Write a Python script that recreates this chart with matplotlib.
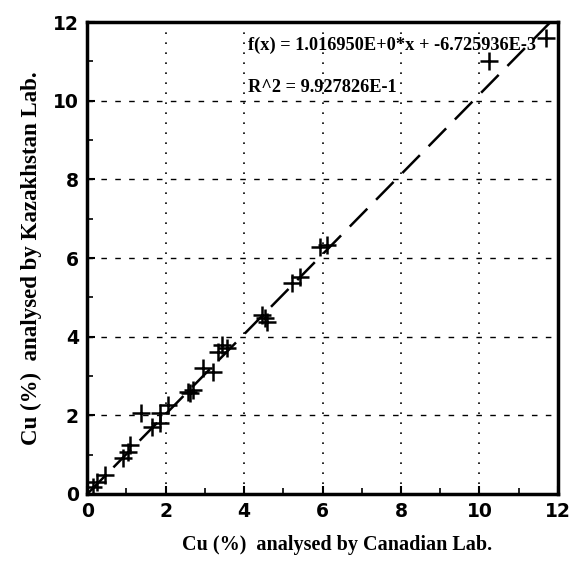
import numpy as np
import matplotlib.pyplot as plt

# Cu (%) pairs
canadian = [0.15, 0.25, 0.46, 0.92, 1.05, 1.10, 1.38, 1.66, 1.86, 1.86, 2.07,
            2.58, 2.63, 2.70, 2.96, 3.21, 3.34, 3.44, 3.57,
            4.46, 4.54, 4.59, 5.23, 5.43, 5.94, 6.12, 10.23, 11.70]
kazakh = [0.18, 0.30, 0.48, 0.92, 1.07, 1.25, 2.06, 1.70, 1.80, 2.06, 2.26,
          2.60, 2.57, 2.65, 3.20, 3.10, 3.61, 3.79, 3.71,
          4.56, 4.48, 4.38, 5.37, 5.52, 6.29, 6.34, 11.00, 11.60]

slope = 1.016950
intercept = -6.725936e-3
eq_text = "f(x) = 1.016950E+0*x + -6.725936E-3"
r2_text = "R^2 = 9.927826E-1"

fig = plt.figure(figsize=(5.77, 5.69), dpi=100)
ax = fig.add_axes([0.151, 0.132, 0.816, 0.829])

xs = np.array([0, 12])
ax.plot(xs, slope * xs + intercept, color="black", lw=1.8, dashes=(10, 5))
ax.plot(canadian, kazakh, "+", color="black", ms=13, mew=1.8)

for v in [2, 4, 6, 8, 10]:
    ax.axvline(v, color="black", lw=1.2, ls=(0, (1, 5)))
    ax.axhline(v, color="black", lw=1.0, ls=(0, (4, 6)))

ax.set_xlim(0, 12)
ax.set_ylim(0, 12)
ax.set_xticks(range(0, 13, 2))
ax.set_yticks(range(0, 13, 2))
ax.set_xticks(range(1, 12, 2), minor=True)
ax.set_yticks(range(1, 12, 2), minor=True)
ax.tick_params(direction="in", length=6, width=1.5, labelsize=13.5, pad=6)
ax.tick_params(which="minor", direction="in", length=4, width=1.2)
for lab in ax.get_xticklabels() + ax.get_yticklabels():
    lab.set_fontweight("bold")
    lab.set_family("Liberation Sans Narrow")
for sp in ax.spines.values():
    sp.set_linewidth(2.5)

ax.text(4.1, 11.4, eq_text, family="Liberation Serif", fontsize=13.2,
        fontweight="bold", va="center")
ax.text(4.1, 10.35, r2_text, family="Liberation Serif", fontsize=13.2,
        fontweight="bold", va="center")

ax.set_xlabel("Cu (%)  analysed by Canadian Lab.", family="Liberation Serif",
              fontsize=14.5, fontweight="bold", labelpad=10, x=0.53)
ax.set_ylabel("Cu (%)  analysed by Kazakhstan Lab.", family="Liberation Serif",
              fontsize=16.5, fontweight="bold", labelpad=8)

fig.savefig("out.png", dpi=100)
